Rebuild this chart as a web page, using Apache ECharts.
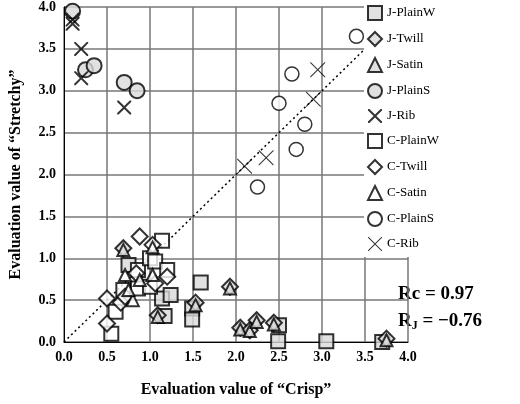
<!DOCTYPE html><html><head><meta charset="utf-8"><script src="https://cdn.jsdelivr.net/npm/echarts@6/dist/echarts.min.js"></script>
<style>body{margin:0}#c{width:520px;height:404px}</style></head><body><div id="c"></div><script>
const jPlainW=[[0.75,0.92],[1.14,0.52],[1.24,0.56],[1.17,0.31],[1.59,0.71],[1.49,0.4],[1.49,0.27],[2.5,0.2],[2.49,0.01],[3.05,0.01],[3.7,0.0]];
const jTwill=[[0.69,1.12],[1.09,0.32],[1.53,0.47],[1.93,0.66],[2.05,0.17],[2.16,0.14],[2.24,0.26],[2.44,0.23],[3.75,0.04]];
const jSatin=[[0.69,1.1],[1.09,0.3],[1.53,0.44],[1.93,0.64],[2.05,0.15],[2.16,0.13],[2.24,0.24],[2.44,0.21],[3.75,0.02]];
const jPlainS=[[0.1,3.95],[0.25,3.25],[0.35,3.3],[0.7,3.1],[0.85,3.0]];
const jRib=[[0.1,3.8],[0.1,3.85],[0.2,3.5],[0.2,3.15],[0.7,2.8]];
const cPlainW=[[0.86,0.86],[1.0,1.0],[1.06,0.96],[1.2,0.86],[1.14,1.21],[0.69,0.62],[0.86,0.64],[1.0,0.66],[0.6,0.36],[0.55,0.1]];
const cTwill=[[0.88,1.26],[1.03,1.16],[1.2,0.78],[0.84,0.82],[0.5,0.52],[0.66,0.47],[0.71,0.54],[0.5,0.22],[1.06,0.7]];
const cSatin=[[0.71,0.8],[0.88,0.74],[1.03,0.8],[0.8,0.5],[0.75,0.62],[1.03,1.13]];
const cPlainS=[[2.25,1.85],[2.5,2.85],[2.65,3.2],[2.7,2.3],[2.8,2.6],[3.4,3.65]];
const cRib=[[2.1,2.1],[2.35,2.2],[2.9,2.9],[2.95,3.25]];
const ticks=[0,0.5,1,1.5,2,2.5,3,3.5,4];
const F='Liberation Serif';
const X='path://M0,0L2,0L10,8L18,0L20,0L20,2L12,10L20,18L20,20L18,20L10,12L2,20L0,20L0,18L8,10L0,2Z';
function s(name,data,sym,fill,size,bw){return{name,type:'scatter',data,symbol:sym,symbolSize:size,itemStyle:{color:fill,borderColor:'#000',borderWidth:bw}}}
const ch=echarts.init(document.getElementById('c'));
ch.setOption({animation:false,
grid:{left:60,right:112,top:6,bottom:62},
xAxis:{min:0,max:4,interval:0.5,name:'Evaluation value of “Crisp”',nameLocation:'middle',nameGap:40,nameTextStyle:{fontFamily:F,fontWeight:'bold',fontSize:16,color:'#000'},axisLabel:{fontFamily:F,fontWeight:'bold',fontSize:14,color:'#000',formatter:v=>v.toFixed(1)},axisLine:{lineStyle:{color:'#000'}},axisTick:{show:false},splitLine:{lineStyle:{color:'#777',width:1.5}}},
yAxis:{min:0,max:4,interval:0.5,name:'Evaluation value of “Stretchy”',nameLocation:'middle',nameGap:40,nameTextStyle:{fontFamily:F,fontWeight:'bold',fontSize:16,color:'#000'},axisLabel:{fontFamily:F,fontWeight:'bold',fontSize:14,color:'#000',formatter:v=>v.toFixed(1)},axisLine:{lineStyle:{color:'#000'}},axisTick:{show:false},splitLine:{lineStyle:{color:'#777',width:1.5}}},
legend:{orient:'vertical',left:364,top:3,itemGap:10,itemWidth:14,itemHeight:14,backgroundColor:'#fff',padding:[2,4,6,3],textStyle:{fontFamily:F,fontSize:13,color:'#000'}},
graphic:[{type:'text',left:398,top:285,style:{text:'Rc = 0.97',font:'bold 19px "Liberation Serif"',fill:'#000'}},
{type:'text',left:398,top:312,style:{text:'R{s|J} = −0.76',rich:{s:{fontSize:12,fontWeight:'bold',fontFamily:F,verticalAlign:'bottom',padding:[8,0,0,0]}},font:'bold 19px "Liberation Serif"',fill:'#000'}}],
series:[
{type:'line',data:[[0,0],[4,4]],symbol:'none',silent:true,lineStyle:{color:'#000',type:[2,3],width:1.5},z:1},
s('J-PlainW',jPlainW,'rect','#d9d9d9',14,2),
s('J-Twill',jTwill,'diamond','#d9d9d9',16,2),
s('J-Satin',jSatin,'triangle','#d9d9d9',12,2),
s('J-PlainS',jPlainS,'circle','#d9d9d9',15,2),
{name:'J-Rib',type:'scatter',data:jRib,symbol:X,symbolSize:14,itemStyle:{color:'#000'}},
s('C-PlainW',cPlainW,'rect','#fff',14,2),
s('C-Twill',cTwill,'diamond','#fff',16,2),
s('C-Satin',cSatin,'triangle','#fff',12,2),
s('C-PlainS',cPlainS,'circle','#fff',14,1.5),
{name:'C-Rib',type:'scatter',data:cRib,symbol:'path://M0,0L1,0L10,9L19,0L20,0L20,1L11,10L20,19L20,20L19,20L10,11L1,20L0,20L0,19L9,10L0,1Z',symbolSize:15,itemStyle:{color:'#000'}}
]});
</script></body></html>
